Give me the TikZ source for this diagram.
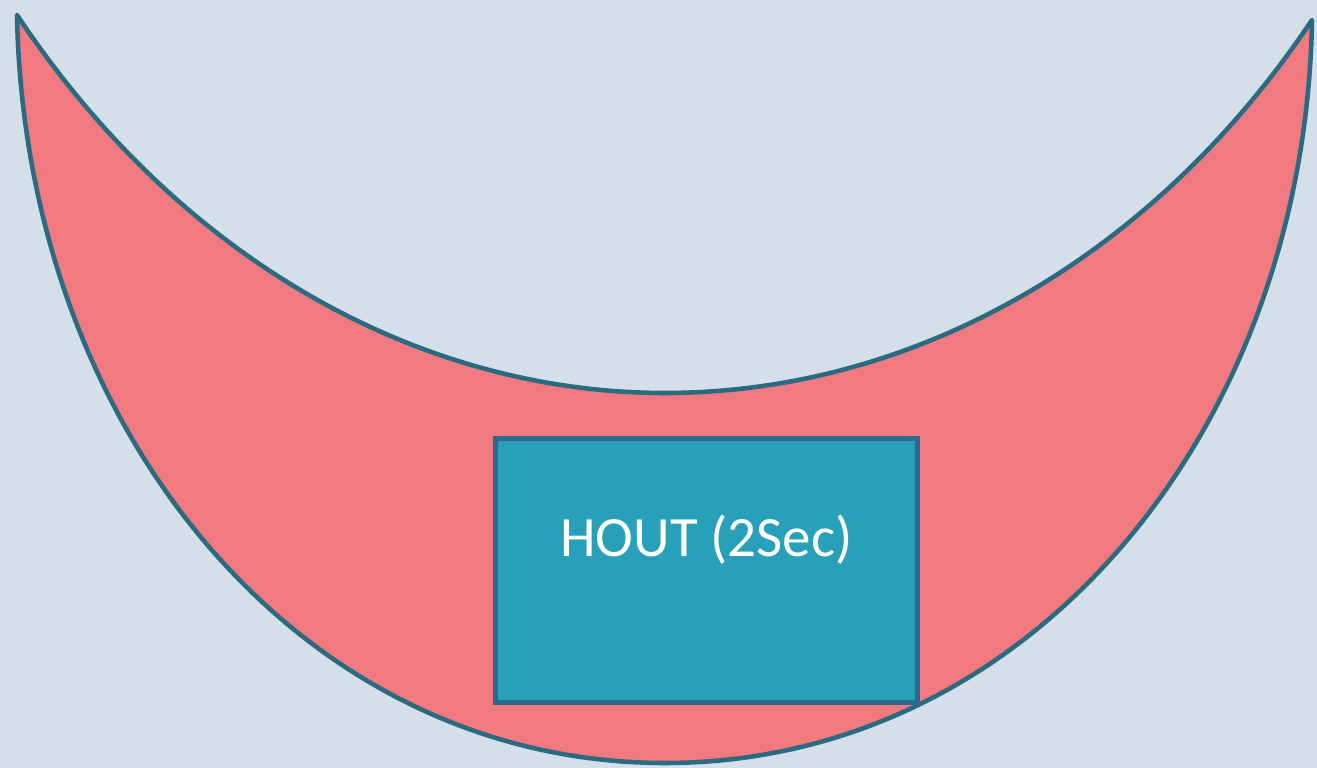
\documentclass[tikz,border=0pt]{standalone}
\usepackage{fontspec}
\setmainfont{Carlito}
\usetikzlibrary{positioning}
\definecolor{bgGrey}{HTML}{D5DFEA}
\definecolor{moonPink}{HTML}{F07A7F}
\definecolor{edgeTeal}{HTML}{2B6B82}
\definecolor{boxTeal}{HTML}{29A0BA}
\definecolor{boxEdge}{HTML}{2A6A8E}

\begin{document}
\begin{tikzpicture}[
      x=0.01cm, y=-0.01cm,
      moon/.style={fill=moonPink, draw=edgeTeal, line width=1.3pt, line join=round},
      outbox/.style={rectangle, draw=boxEdge, fill=boxTeal, line width=1.4pt,
                     minimum width=4.21cm, minimum height=2.63cm, inner sep=0pt},
      outlabel/.style={text=white, font=\fontsize{16.2}{19}\selectfont, inner sep=0pt}
    ]
    % background and frame
    \fill[bgGrey] (0,0) rectangle (1317,768);
    \useasboundingbox (0,0) rectangle (1317,768);

    % crescent
    \draw[moon] (17,15)
      .. controls (25,430) and (300,763) .. (665,763)
      .. controls (1030,763) and (1305,430) .. (1312,20)
      .. controls (1150,262) and (910,393) .. (665,393)
      .. controls (420,393) and (180,260) .. cycle;

    % output box
    \node[outbox] (hout) at (706.5,570.5) {};
    \node[outlabel] (houtText) at ([yshift=0.31cm]hout.center) {HOUT (2Sec)};
  \end{tikzpicture}
\end{document}
